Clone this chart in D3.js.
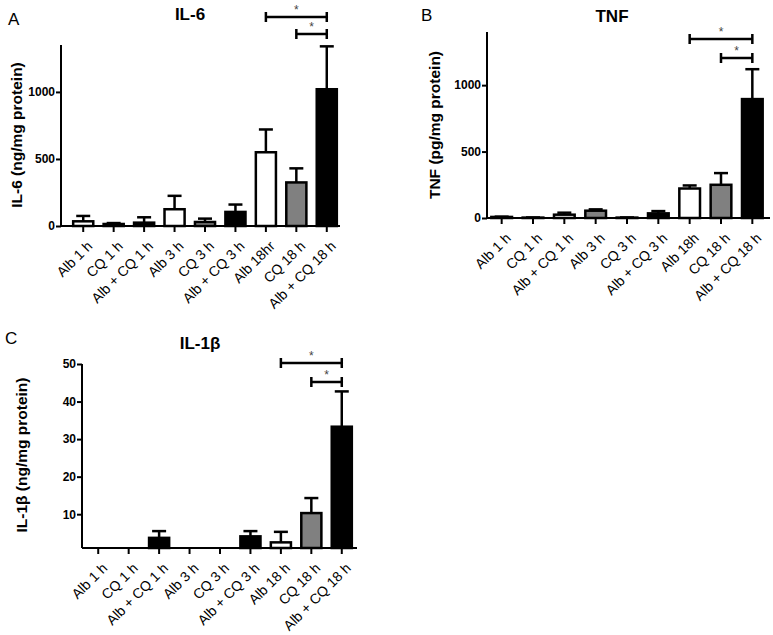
<!DOCTYPE html>
<html>
<head>
<meta charset="utf-8">
<script src="https://cdn.jsdelivr.net/npm/d3@7"></script>
<style>
  body { margin: 0; background: #fff; }
  svg { font-family: "Liberation Sans", Arial, sans-serif; }
</style>
</head>
<body>
<svg id="chart" width="773" height="635"></svg>
<script>
// categories per panel (panel A has "Alb 18hr", C has "Alb 18 h")
const catsA = ["Alb 1 h", "CQ 1 h", "Alb + CQ 1 h", "Alb 3 h", "CQ 3 h", "Alb + CQ 3 h", "Alb 18hr", "CQ 18 h", "Alb + CQ 18 h"];
const catsB = ["Alb 1 h", "CQ 1 h", "Alb + CQ 1 h", "Alb 3 h", "CQ 3 h", "Alb + CQ 3 h", "Alb 18h", "CQ 18 h", "Alb + CQ 18 h"];
const catsC = ["Alb 1 h", "CQ 1 h", "Alb + CQ 1 h", "Alb 3 h", "CQ 3 h", "Alb + CQ 3 h", "Alb 18 h", "CQ 18 h", "Alb + CQ 18 h"];

// means and upper error (mean + SEM)
const il6Mean = [35, 15, 25, 125, 30, 105, 550, 325, 1020];
const il6Err  = [75, 22, 65, 225, 55, 160, 720, 430, 1340];
const tnfMean = [8, 3, 25, 55, 3, 35, 222, 250, 895];
const tnfErr  = [10, 4, 40, 65, 4, 52, 245, 338, 1120];
const il1Mean = [0, 0, 3.7, 0, 0, 4.1, 2.5, 10.3, 33.3];
const il1Err  = [0, 0, 5.5, 0, 0, 5.5, 5.3, 14.3, 42.7];

// fill per bar
const fillA = ["white", "#808080", "black", "white", "#808080", "black", "white", "#808080", "black"];
const fillB = ["white", "#808080", "white", "#808080", "#808080", "black", "white", "#808080", "black"];
const fillC = ["white", "#808080", "black", "white", "#808080", "black", "white", "#808080", "black"];

const ticksA = [0, 500, 1000];
const ticksB = [0, 500, 1000];
const ticksC = [10, 20, 30, 40, 50];

const svg = d3.select("#chart");

function drawPanel(p) {
  const g = svg.append("g");

  const x = d3.scaleBand().domain(p.cats).range(p.band).paddingInner(0.34).paddingOuter(0.17);
  const y = d3.scaleLinear().domain(p.domain).range([p.y0, p.y1]).clamp(true);

  // letter + title
  g.append("text").attr("x", p.letter[0]).attr("y", p.letter[1])
    .style("font-size", "17px").text(p.letterText);
  g.append("text").attr("x", p.title[0]).attr("y", p.title[1])
    .attr("text-anchor", "middle").style("font-size", "17px").style("font-weight", "bold")
    .text(p.titleText);

  // y axis
  const yAxis = g.append("g").attr("transform", `translate(${p.x0},0)`)
    .call(d3.axisLeft(y).tickValues(p.ticks).tickFormat(d3.format("d")).tickSize(5).tickSizeOuter(0));
  yAxis.select(".domain").attr("d", `M0,${p.y0}V${p.y1}`).attr("stroke-width", 2);
  yAxis.selectAll(".tick line").attr("stroke-width", 2);
  yAxis.selectAll(".tick text").style("font-size", "12px").style("font-weight", "bold")
    .attr("fill", "#000").attr("x", -6);

  g.append("text")
    .attr("transform", `translate(${p.ylab[0]},${p.ylab[1]}) rotate(-90)`)
    .attr("text-anchor", "middle").style("font-size", "15.5px").style("font-weight", "bold")
    .text(p.ylabText);

  // error bars (upper only)
  const cx = d => x(d) + x.bandwidth() / 2;
  p.cats.forEach((c, i) => {
    if (p.err[i] <= p.mean[i]) return;
    g.append("line").attr("x1", cx(c)).attr("x2", cx(c))
      .attr("y1", y(p.mean[i])).attr("y2", y(p.err[i]))
      .attr("stroke", "#000").attr("stroke-width", 2.5);
    g.append("line").attr("x1", cx(c) - 7).attr("x2", cx(c) + 7)
      .attr("y1", y(p.err[i])).attr("y2", y(p.err[i]))
      .attr("stroke", "#000").attr("stroke-width", 2.5);
  });

  // bars
  g.selectAll(".bar").data(p.cats).enter().append("rect")
    .attr("x", d => x(d))
    .attr("width", x.bandwidth())
    .attr("y", (d, i) => y(p.mean[i]))
    .attr("height", (d, i) => Math.max(0, y.range()[0] - y(p.mean[i])))
    .attr("fill", (d, i) => p.fill[i])
    .attr("stroke", "#000").attr("stroke-width", 2.5);

  // x axis
  const xAxis = g.append("g").attr("transform", `translate(0,${p.y0})`)
    .call(d3.axisBottom(x).tickSize(6).tickSizeOuter(0));
  xAxis.select(".domain").attr("d", `M${p.x0},0H${p.xEnd}`).attr("stroke-width", 2);
  xAxis.selectAll(".tick line").attr("stroke-width", 2);
  xAxis.selectAll(".tick text")
    .attr("text-anchor", "end")
    .attr("dy", null).attr("y", 0)
    .attr("transform", "translate(10,21) rotate(-45)")
    .style("font-size", "14px").attr("fill", "#000");

  // significance brackets
  p.sig.forEach(s => {
    const xa = cx(p.cats[s.from]), xb = cx(p.cats[s.to]), yy = s.y;
    g.append("path").attr("d", `M${xa},${yy - 5}V${yy + 5}M${xa},${yy}H${xb}M${xb},${yy - 5}V${yy + 5}`)
      .attr("fill", "none").attr("stroke", "#000").attr("stroke-width", 2.5);
    g.append("text").attr("x", (xa + xb) / 2).attr("y", yy - 3)
      .attr("text-anchor", "middle").style("font-size", "12px").attr("fill", "#444").text("*");
  });
}

drawPanel({
  cats: catsA, mean: il6Mean, err: il6Err, fill: fillA, ticks: ticksA,
  domain: [0, 1350], band: [68, 342], x0: 61, xEnd: 340, y0: 226, y1: 45,
  letter: [8, 25], letterText: "A", title: [190, 20], titleText: "IL-6",
  ylab: [22, 135], ylabText: "IL-6 (ng/mg protein)",
  sig: [{ from: 6, to: 8, y: 17 }, { from: 7, to: 8, y: 34 }]
});

drawPanel({
  cats: catsB, mean: tnfMean, err: tnfErr, fill: fillB, ticks: ticksB,
  domain: [0, 1400], band: [486, 768], x0: 487, xEnd: 770, y0: 218, y1: 32,
  letter: [421, 21], letterText: "B", title: [612, 22], titleText: "TNF",
  ylab: [440, 125], ylabText: "TNF (pg/mg protein)",
  sig: [{ from: 6, to: 8, y: 39 }, { from: 7, to: 8, y: 58 }]
});

drawPanel({
  cats: catsC, mean: il1Mean, err: il1Err, fill: fillC, ticks: ticksC,
  domain: [1, 50], band: [83, 357], x0: 82, xEnd: 357, y0: 548, y1: 364,
  letter: [5, 344], letterText: "C", title: [200, 349], titleText: "IL-1β",
  ylab: [27, 455], ylabText: "IL-1β (ng/mg protein)",
  sig: [{ from: 6, to: 8, y: 363 }, { from: 7, to: 8, y: 382 }]
});
</script>
</body>
</html>
